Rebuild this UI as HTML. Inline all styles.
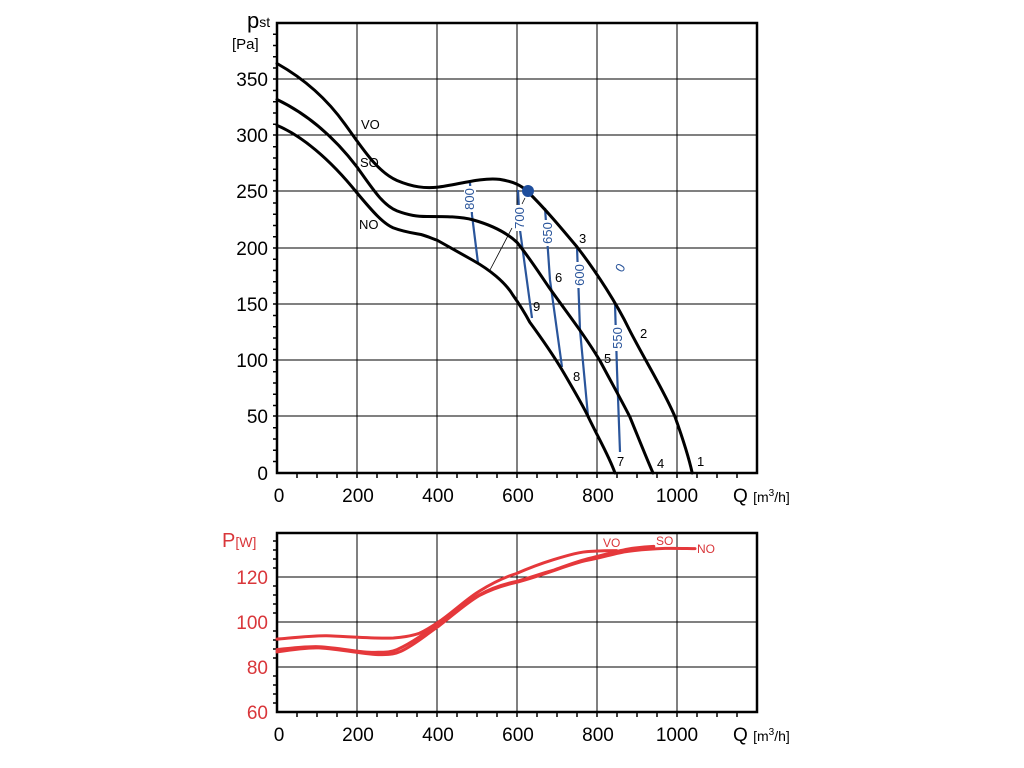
<!DOCTYPE html>
<html><head><meta charset="utf-8"><style>
html,body{margin:0;padding:0;background:#fff;}
svg{display:block;font-family:"Liberation Sans",Arial,sans-serif;}
</style></head><body>
<svg width="1024" height="768" viewBox="0 0 1024 768" xmlns="http://www.w3.org/2000/svg">
<rect width="1024" height="768" fill="#fff"/>
<!-- UPPER grid -->
<g stroke="#000" stroke-width="1">
<line x1="277" y1="79" x2="757" y2="79"/><line x1="277" y1="135" x2="757" y2="135"/>
<line x1="277" y1="191" x2="757" y2="191"/><line x1="277" y1="248" x2="757" y2="248"/>
<line x1="277" y1="304" x2="757" y2="304"/><line x1="277" y1="360" x2="757" y2="360"/>
<line x1="277" y1="416" x2="757" y2="416"/>
<line x1="357" y1="23" x2="357" y2="473"/><line x1="437" y1="23" x2="437" y2="473"/>
<line x1="517" y1="23" x2="517" y2="473"/><line x1="597" y1="23" x2="597" y2="473"/>
<line x1="677" y1="23" x2="677" y2="473"/>
</g>
<g stroke="#000" stroke-width="1.5">
<path d="M273 34.2h4M273 45.5h4M273 56.8h4M273 68h4M273 79h4M273 90.5h4M273 101.8h4M273 113h4M273 124.3h4M273 135h4M273 146.8h4M273 158h4M273 169.3h4M273 180.5h4M273 191h4M273 203h4M273 214.3h4M273 225.5h4M273 236.8h4M273 248h4M273 259.3h4M273 270.5h4M273 281.8h4M273 293h4M273 304h4M273 315.5h4M273 326.8h4M273 338h4M273 349.3h4M273 360h4M273 371.8h4M273 383h4M273 394.3h4M273 405.5h4M273 416h4M273 427.8h4M273 439h4M273 450.3h4M273 461.5h4"/>
<path d="M297 473v5M317 473v5M337 473v5M357 473v5M377 473v5M397 473v5M417 473v5M437 473v5M457 473v5M477 473v5M497 473v5M517 473v5M537 473v5M557 473v5M577 473v5M597 473v5M617 473v5M637 473v5M657 473v5M677 473v5M697 473v5M717 473v5M737 473v5"/>
</g>
<g font-size="19" fill="#000" text-anchor="end">
<text x="268" y="86">350</text><text x="268" y="142">300</text><text x="268" y="198">250</text>
<text x="268" y="255">200</text><text x="268" y="311">150</text><text x="268" y="367">100</text>
<text x="268" y="423">50</text><text x="268" y="480">0</text>
</g>
<text x="247" y="28" font-size="22">p<tspan font-size="14" dy="-1">st</tspan></text>
<text x="232" y="49" font-size="15">[Pa]</text>
<g font-size="19" fill="#000" text-anchor="middle">
<text x="279" y="502">0</text><text x="358" y="502">200</text><text x="438" y="502">400</text>
<text x="518" y="502">600</text><text x="598" y="502">800</text><text x="677" y="502">1000</text>
</g>
<text x="733" y="502" font-size="19">Q <tspan font-size="14">[m</tspan><tspan font-size="10" dy="-6">3</tspan><tspan font-size="14" dy="6">/h]</tspan></text>
<!-- blue lines -->
<g stroke="#2a559b" stroke-width="2.2" fill="none">
<path d="M470 183 L472 215 L478 263"/>
<path d="M518 190 L520 230 L532 318"/>
<path d="M545 208 L550 280 L562 367"/>
<path d="M577 247 L580 330 L588 416"/>
<path d="M615 304 L617 370 L620 452"/>
</g>
<g fill="#fff">
<rect x="464" y="186" width="12" height="26"/>
<rect x="513" y="205" width="12" height="26"/>
<rect x="542" y="220" width="12" height="26"/>
<rect x="574" y="262" width="12" height="26"/>
<rect x="612" y="325" width="12" height="26"/>
</g>
<g fill="#2a559b" font-size="13" text-anchor="middle">
<text transform="translate(474,199) rotate(-90)">800</text>
<text transform="translate(524,218) rotate(-90)">700</text>
<text transform="translate(552,233) rotate(-90)">650</text>
<text transform="translate(584,275) rotate(-90)">600</text>
<text transform="translate(622,338) rotate(-90)">550</text>
<text transform="translate(624,270) rotate(-60)">0</text>
</g>
<!-- upper curves -->
<g transform="translate(277,473) scale(0.4,-1.125)" fill="none" stroke="#000" stroke-width="3" stroke-linejoin="round" stroke-linecap="round">
<path vector-effect="non-scaling-stroke" d="M0,364 C60,352 120,335 170,310 C215,288 250,268 300,260 C340,254 370,253 400,254 C450,256 510,263 557,261 C590,259 610,256 627,250 C670,235 710,218 750,201 C800,178 850,150 880,128 C920,100 965,75 995,50 C1020,25 1032,10 1038,0"/>
<path vector-effect="non-scaling-stroke" d="M0,332 C70,320 140,300 200,272 C240,252 265,238 300,233 C330,229 350,228 375,228 C420,228 460,228 490,225 C530,221 570,215 600,205 C630,192 655,178 680,165 C730,140 770,122 807,100 C840,78 865,62 882,50 C905,30 925,12 940,0"/>
<path vector-effect="non-scaling-stroke" d="M0,309 C60,300 130,280 200,249 C240,232 265,222 290,218 C320,214 345,213 360,212 C380,210 390,208 400,207 C430,201 460,195 490,189 C530,181 570,170 590,158 C610,148 620,142 632,134 C665,118 690,105 712,92 C740,75 765,60 778,50 C805,30 830,15 845,0"/>
</g>
<circle cx="528" cy="191" r="6" fill="#1f4e9c"/>
<g stroke="#000" stroke-width="0.8"><line x1="525" y1="198" x2="522" y2="204"/><line x1="512" y1="228" x2="490" y2="270"/></g>
<g font-size="13" fill="#000">
<text x="361" y="129">VO</text><text x="360" y="167">SO</text><text x="359" y="229">NO</text>
<text x="697" y="466">1</text><text x="640" y="338">2</text><text x="579" y="243">3</text>
<text x="657" y="468">4</text><text x="604" y="363">5</text><text x="555" y="282">6</text>
<text x="617" y="466">7</text><text x="573" y="381">8</text><text x="533" y="311">9</text>
</g>
<rect x="277" y="23" width="480" height="450" fill="none" stroke="#000" stroke-width="2.5"/>
<!-- LOWER grid -->
<g stroke="#000" stroke-width="1">
<line x1="277" y1="577" x2="757" y2="577"/><line x1="277" y1="622" x2="757" y2="622"/>
<line x1="277" y1="667" x2="757" y2="667"/>
<line x1="357" y1="533" x2="357" y2="712"/><line x1="437" y1="533" x2="437" y2="712"/>
<line x1="517" y1="533" x2="517" y2="712"/><line x1="597" y1="533" x2="597" y2="712"/>
<line x1="677" y1="533" x2="677" y2="712"/>
</g>
<g stroke="#000" stroke-width="1.5">
<path d="M273 541h4M273 550h4M273 559h4M273 568h4M273 586h4M273 595h4M273 604h4M273 613h4M273 631h4M273 640h4M273 649h4M273 658h4M273 676h4M273 685h4M273 694h4M273 703h4"/>
<path d="M297 712v5M317 712v5M337 712v5M357 712v5M377 712v5M397 712v5M417 712v5M437 712v5M457 712v5M477 712v5M497 712v5M517 712v5M537 712v5M557 712v5M577 712v5M597 712v5M617 712v5M637 712v5M657 712v5M677 712v5M697 712v5M717 712v5M737 712v5"/>
</g>
<rect x="277" y="533" width="480" height="179" fill="none" stroke="#000" stroke-width="2.5"/>
<g font-size="19" fill="#d9363a" text-anchor="end">
<text x="268" y="584">120</text><text x="268" y="629">100</text><text x="268" y="674">80</text><text x="268" y="719">60</text>
</g>
<text x="222" y="547" font-size="20" fill="#d9363a">P<tspan font-size="14">[W]</tspan></text>
<g font-size="19" fill="#000" text-anchor="middle">
<text x="279" y="741">0</text><text x="358" y="741">200</text><text x="438" y="741">400</text>
<text x="518" y="741">600</text><text x="598" y="741">800</text><text x="677" y="741">1000</text>
</g>
<text x="733" y="741" font-size="19">Q <tspan font-size="14">[m</tspan><tspan font-size="10" dy="-6">3</tspan><tspan font-size="14" dy="6">/h]</tspan></text>
<g transform="translate(277,847) scale(0.4,-2.25)" fill="none" stroke="#e5383b" stroke-width="3" stroke-linejoin="round" stroke-linecap="round">
<path vector-effect="non-scaling-stroke" d="M0,92.4 C40,93 90,94 124,93.9 C180,93.5 250,92.5 291,92.9 C320,93.3 340,94 356,95 C380,97 395,99 412,101 C450,106 480,111 505,113.6 C540,117.5 570,120 598,121.5 C630,124 660,126 691,127.7 C730,129.8 760,131.3 784,131.4 C810,131.6 830,131.7 849,131.7"/>
<path vector-effect="non-scaling-stroke" d="M0,87.7 C40,88.5 80,89.2 105,89 C160,88.5 210,86.3 245,86.5 C270,86.6 285,86.5 300,87.7 C340,91 370,95 403,99.5 C440,104.5 470,108.5 505,112 C540,115.5 570,117 598,118 C630,119.5 660,121.5 691,123 C720,124.8 750,127 784,128.4 C820,130 850,131.5 877,132.4 C905,133.2 930,133.5 942,133.6"/>
<path vector-effect="non-scaling-stroke" d="M0,86.7 C40,87.8 80,88.7 105,88.5 C170,87.8 225,85.2 263,85.5 C285,85.6 295,85.8 310,87 C345,90 370,94 403,98 C440,103 470,108 505,111.7 C540,115 570,116.5 598,117.6 C680,121.5 740,126.5 784,127.7 C820,129 850,130.8 877,131.4 C910,132.2 940,132.5 970,132.7 C1000,132.8 1030,132.6 1045,132.6"/>
</g>
<g font-size="12" fill="#d9363a">
<text x="603" y="547">VO</text><text x="656" y="545">SO</text><text x="697" y="553">NO</text>
</g>
</svg>
</body></html>
